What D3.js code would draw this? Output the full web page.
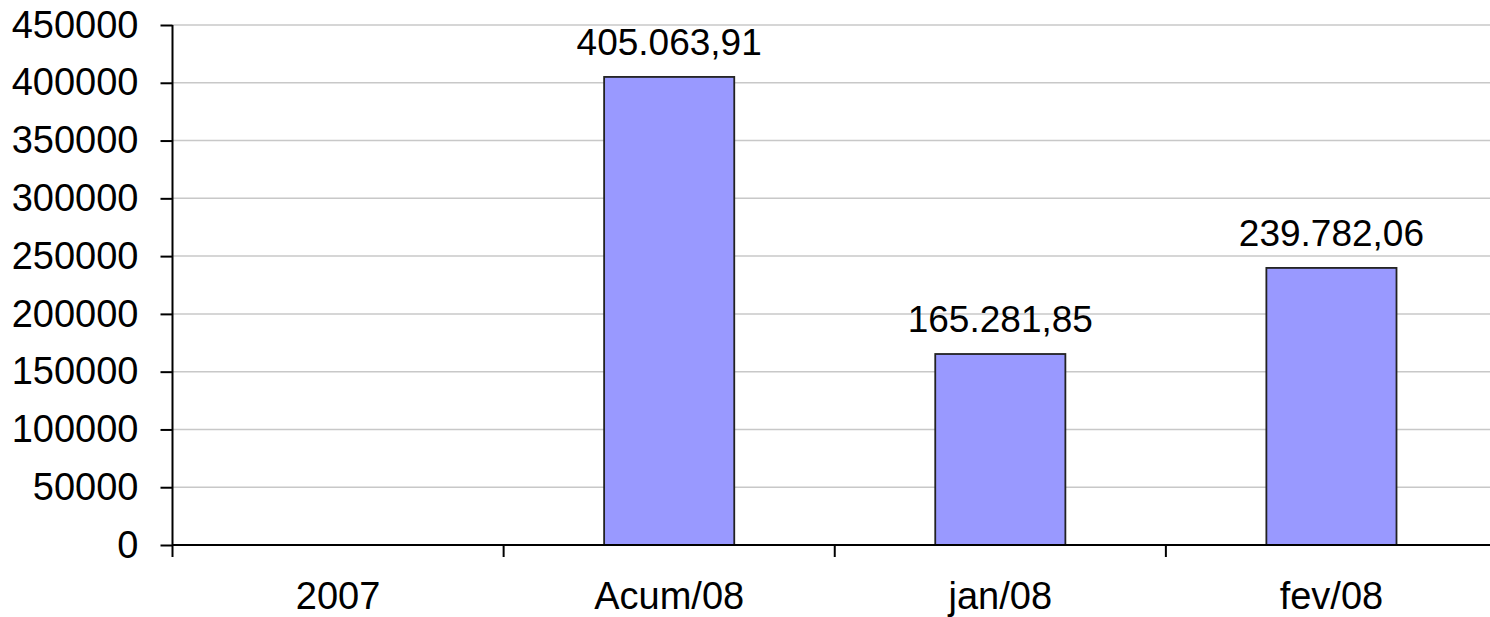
<!DOCTYPE html>
<html>
<head>
<meta charset="utf-8">
<script src="https://cdn.jsdelivr.net/npm/d3@7"></script>
<style>
  body { margin: 0; background: #fff; overflow: hidden; }
  text { font-family: "Liberation Sans", Arial, sans-serif; fill: #000; }
</style>
</head>
<body>
<div id="chart"></div>
<script>
// chart data
var categories = ["2007", "Acum/08", "jan/08", "fev/08"];
var values = [0, 405063.91, 165281.85, 239782.06];
var valueLabels = ["", "405.063,91", "165.281,85", "239.782,06"];
var yTicks = [0, 50000, 100000, 150000, 200000, 250000, 300000, 350000, 400000, 450000];

var svgWidth = 1490;
var svgHeight = 617;

var margin = { top: 25, right: -7, bottom: 72, left: 172.5 };
var width = svgWidth - margin.left - margin.right;
var height = svgHeight - margin.top - margin.bottom;

var svg = d3.select("#chart")
  .append("svg")
  .attr("width", svgWidth)
  .attr("height", svgHeight)
  .style("display", "block");

var chartGroup = svg.append("g")
  .attr("transform", `translate(${margin.left}, ${margin.top})`);

var xScale = d3.scaleBand()
  .domain(categories)
  .range([0, width])
  .padding(0);

var yScale = d3.scaleLinear()
  .domain([0, 450000])
  .range([height, 0]);

// gridlines
chartGroup.append("g")
  .selectAll("line")
  .data(yTicks.filter(d => d > 0))
  .enter()
  .append("line")
  .attr("x1", 0)
  .attr("x2", width)
  .attr("y1", d => yScale(d))
  .attr("y2", d => yScale(d))
  .attr("stroke", "#c8c8c8")
  .attr("stroke-width", 1.5);

// bars
var barWidth = xScale.bandwidth() * 0.393;
chartGroup.selectAll("rect")
  .data(values)
  .enter()
  .append("rect")
  .attr("x", (d, i) => xScale(categories[i]) + xScale.bandwidth() / 2 - barWidth / 2)
  .attr("y", d => yScale(d))
  .attr("width", barWidth)
  .attr("height", d => height - yScale(d))
  .attr("fill", "#9999ff")
  .attr("stroke", "#222")
  .attr("stroke-width", 1.8)
  .style("display", d => d > 0 ? null : "none");

// value labels
chartGroup.selectAll(".valueLabel")
  .data(values)
  .enter()
  .append("text")
  .attr("class", "valueLabel")
  .attr("x", (d, i) => xScale(categories[i]) + xScale.bandwidth() / 2)
  .attr("y", d => yScale(d) - 22)
  .attr("text-anchor", "middle")
  .style("font-size", "37px")
  .text((d, i) => valueLabels[i]);

// y axis
var leftAxis = d3.axisLeft(yScale)
  .tickValues(yTicks)
  .tickSize(12)
  .tickPadding(22)
  .tickFormat(d3.format("d"));

var yAxis = chartGroup.append("g").call(leftAxis);
yAxis.select(".domain").attr("stroke", "#000").attr("stroke-width", 2).attr("d", `M0,0V${height}`);
yAxis.selectAll(".tick line").attr("stroke", "#000").attr("stroke-width", 2);
yAxis.selectAll("text").style("font-size", "38px").attr("fill", "#000");

// x axis
var xAxisGroup = chartGroup.append("g")
  .attr("transform", `translate(0, ${height})`);

xAxisGroup.append("line")
  .attr("x1", 0)
  .attr("x2", width)
  .attr("stroke", "#000")
  .attr("stroke-width", 2);

xAxisGroup.selectAll(".xtick")
  .data(categories)
  .enter()
  .append("line")
  .attr("class", "xtick")
  .attr("x1", d => xScale(d))
  .attr("x2", d => xScale(d))
  .attr("y1", 0)
  .attr("y2", 12)
  .attr("stroke", "#000")
  .attr("stroke-width", 2);

xAxisGroup.selectAll(".xlabel")
  .data(categories)
  .enter()
  .append("text")
  .attr("class", "xlabel")
  .attr("x", d => xScale(d) + xScale.bandwidth() / 2)
  .attr("y", 64)
  .attr("text-anchor", "middle")
  .style("font-size", "38px")
  .text(d => d);
</script>
</body>
</html>
